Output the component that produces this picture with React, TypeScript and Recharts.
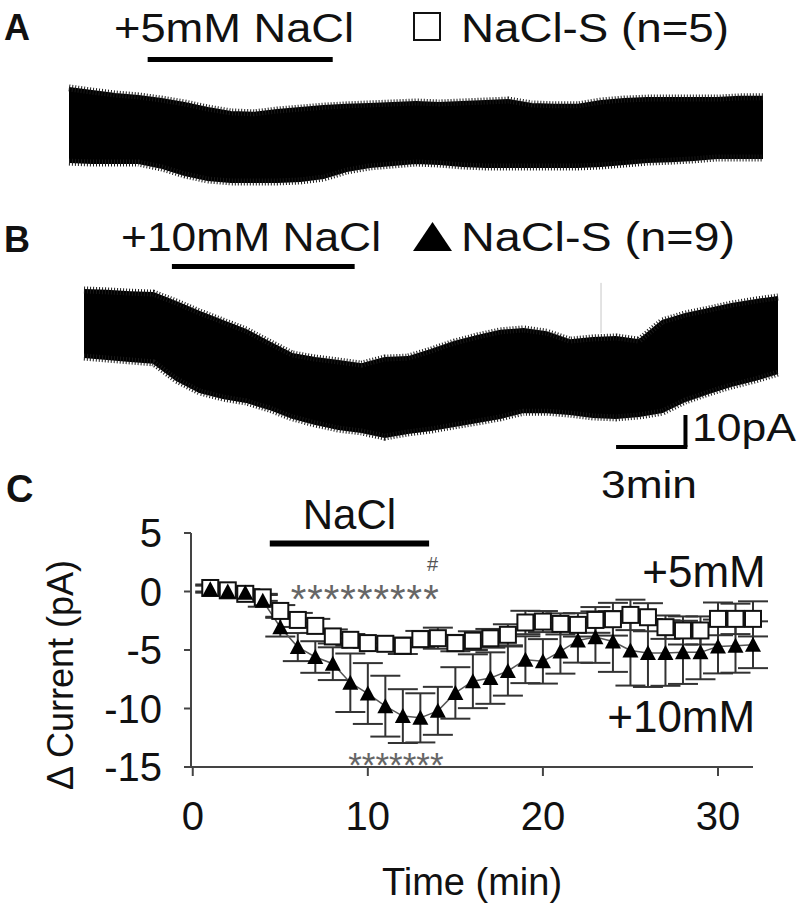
import React from "react";
import {
  ComposedChart,
  Line,
  Area,
  XAxis,
  YAxis,
  ErrorBar,
  ReferenceLine,
  ReferenceDot,
} from "recharts";

// ---- panels A / B: raw current traces, envelope (pA) sampled once a minute
const traceMinutes = [0, 1, 2, 3, 4, 5, 6, 7, 8, 9, 10, 11, 12, 13, 14, 15, 16, 17, 18, 19, 20, 21, 22, 23, 24, 25, 26, 27, 28, 29, 30];
const traceATop = [11.6, 10.6, 9.7, 9.1, 8.1, 6.9, 5.3, 4.1, 3.8, 4.7, 5.3, 5.9, 6.3, 6.6, 6.9, 7.2, 6.9, 7.2, 7.5, 7.8, 6.6, 6.3, 6.3, 7.5, 8.1, 8.4, 8.4, 8.4, 8.4, 8.8, 8.8];
const traceABottom = [-11.6, -11.9, -11.9, -11.9, -13.4, -15.6, -17.2, -17.8, -17.8, -17.8, -17.5, -16.6, -14.4, -13.1, -12.5, -11.9, -12.2, -12.8, -13.1, -13.1, -13.1, -13.1, -13.1, -12.8, -12.2, -11.6, -11.3, -10.9, -10.3, -10.3, -10.3];
const traceBTop = [10.5, 10.2, 9.8, 9.5, 6.7, 3.6, 0.8, -2.0, -5.8, -9.5, -10.8, -11.7, -12.7, -10.8, -10.5, -8.3, -5.8, -3.9, -2.3, -1.7, -2.7, -5.2, -4.5, -4.2, -5.2, 0.8, 3.0, 4.5, 6.1, 7.3, 8.3];
const traceBBottom = [-10.5, -11.1, -11.7, -12.3, -17.7, -21.4, -23.3, -24.5, -26.7, -29.5, -31.4, -33.0, -33.9, -35.5, -34.2, -33.3, -32.0, -30.8, -29.5, -27.7, -27.7, -28.3, -29.2, -29.5, -28.9, -27.7, -24.2, -21.7, -19.5, -17.7, -15.5];

// application windows (min) and scale bar
const applyA = [3.4, 11.4];
const applyB = [3.8, 11.7];
const scaleBar = { t0: 23, t1: 26, i0: -38.6, i1: -28.6 };

// ---- panel C: mean delta current +/- SEM
const timeMin = [1, 2, 3, 4, 5, 6, 7, 8, 9, 10, 11, 12, 13, 14, 15, 16, 17, 18, 19, 20, 21, 22, 23, 24, 25, 26, 27, 28, 29, 30, 31, 32];
const mean5 = [0.3, 0.1, -0.2, -0.5, -1.66, -2.43, -2.94, -3.84, -4.13, -4.41, -4.47, -4.64, -4.07, -3.99, -4.41, -4.2, -4.0, -3.7, -2.65, -2.57, -2.77, -2.85, -2.43, -2.37, -2.0, -2.2, -3.05, -3.33, -3.33, -2.34, -2.34, -2.34];
const sem5 = [0.3, 0.3, 0.3, 0.3, 0.5, 0.6, 0.6, 0.6, 0.5, 0.4, 0.4, 0.7, 0.7, 0.9, 0.7, 0.8, 0.8, 0.9, 1.0, 0.9, 0.9, 1.0, 1.1, 1.4, 1.3, 1.2, 1.0, 1.2, 1.2, 1.4, 1.3, 1.5];
const mean10 = [0.2, 0.0, -0.1, -0.8, -3.05, -4.75, -5.6, -6.17, -7.8, -8.72, -9.8, -10.65, -10.8, -10.2, -8.67, -7.67, -7.4, -6.8, -5.83, -5.97, -5.12, -4.18, -3.9, -4.27, -5.04, -5.26, -5.26, -5.2, -5.2, -4.7, -4.64, -4.55];
const sem10 = [0.3, 0.3, 0.3, 0.5, 0.8, 1.2, 1.35, 1.4, 2.5, 2.6, 2.6, 2.3, 2.1, 2.05, 2.2, 2.3, 2.2, 2.1, 2.0, 1.9, 1.9, 1.9, 2.2, 2.6, 3.0, 2.9, 2.8, 2.7, 2.3, 2.3, 2.3, 2.0];
const xTicks = [0, 10, 20, 30];
const yTicks = [5, 0, -5, -10, -15];
const naclWindow = [4.4, 13.5];

const FONT = "'Liberation Sans', Arial, sans-serif";
const INK = "#111";

const traceA = traceMinutes.map((t, i) => ({ t, band: [traceABottom[i], traceATop[i]] }));
const traceB = traceMinutes.map((t, i) => ({ t, band: [traceBBottom[i], traceBTop[i]] }));
const summary = timeMin.map((t, i) => ({ t, m5: mean5[i], e5: sem5[i], m10: mean10[i], e10: sem10[i] }));

const SquareDot = (p: any) => {
  if (p.cx == null || p.cy == null) return null;
  return (
    <rect key={`sq-${p.index}`} x={p.cx - 8} y={p.cy - 8} width={16} height={16}
      fill="#fff" stroke={INK} strokeWidth={2} />
  );
};

const TriangleDot = (p: any) => {
  if (p.cx == null || p.cy == null) return null;
  const { cx, cy } = p;
  return (
    <polygon key={`tr-${p.index}`} points={`${cx - 8},${cy + 7} ${cx + 8},${cy + 7} ${cx},${cy - 8}`} fill="#000" />
  );
};

function Trace({ data, domain, margin, height, bar, barLevel, children }: any) {
  return (
    <ComposedChart width={800} height={height} data={data} margin={margin}>
      <XAxis dataKey="t" type="number" domain={[0, 30]} hide />
      <YAxis type="number" domain={domain} hide />
      <Area dataKey="band" type="linear" fill="#000" fillOpacity={1} stroke="#000" strokeWidth={2} isAnimationActive={false} />
      {/* ragged noise fringe along the envelope */}
      <Area dataKey="band" type="linear" fill="none" stroke="#1a1a1a" strokeWidth={7}
        strokeDasharray="1 2" isAnimationActive={false} />
      <ReferenceLine
        segment={[{ x: bar[0], y: barLevel }, { x: bar[1], y: barLevel }]}
        stroke="#000" strokeWidth={5} ifOverflow="visible"
      />
      {children}
    </ComposedChart>
  );
}

export default function App() {
  return (
    <div style={{ position: "absolute", left: 0, top: 0, width: 800, height: 912, background: "#fff", fontFamily: FONT }}>
      <div style={{ position: "absolute", left: 0, top: 0 }}>
        <Trace data={traceA} domain={[-20, 14]} height={200}
          margin={{ top: 80.2, right: 37, bottom: 11, left: 69 }} bar={applyA} barLevel={20.5} />
      </div>

      <div style={{ position: "absolute", left: 0, top: 200 }}>
        <Trace data={traceB} domain={[-40, 24]} height={300}
          margin={{ top: 46.7, right: 22, bottom: 48.5, left: 84 }} bar={applyB} barLevel={17.8}>
          <ReferenceLine segment={[{ x: 22.35, y: 12.7 }, { x: 22.35, y: -3 }]} stroke="#c8c8c8" strokeWidth={1} />
          <ReferenceLine segment={[{ x: scaleBar.t1, y: scaleBar.i0 }, { x: scaleBar.t1, y: scaleBar.i1 }]} stroke="#000" strokeWidth={4} />
          <ReferenceLine segment={[{ x: scaleBar.t0, y: scaleBar.i0 }, { x: scaleBar.t1 + 0.08, y: scaleBar.i0 }]} stroke="#000" strokeWidth={4} />
        </Trace>
      </div>

      <div style={{ position: "absolute", left: 0, top: 450 }}>
        <ComposedChart width={800} height={462} data={summary} margin={{ top: 83, right: 47, bottom: 10, left: 71 }}>
          <XAxis dataKey="t" type="number" domain={[-0.1, 32]} ticks={xTicks} height={135}
            tick={{ fontSize: 40, fill: INK, fontFamily: FONT }} tickSize={9} tickMargin={26}
            axisLine={{ stroke: "#444", strokeWidth: 2 }} tickLine={{ stroke: "#444", strokeWidth: 2 }}
            label={{ value: "Time (min)", position: "insideBottom", offset: 7, fontSize: 38, fill: INK, fontFamily: FONT }} />
          <YAxis type="number" domain={[-15, 5]} ticks={yTicks} width={120} interval={0}
            tick={{ fontSize: 40, fill: INK, fontFamily: FONT }} tickSize={7} tickMargin={22}
            axisLine={{ stroke: "#444", strokeWidth: 2 }} tickLine={{ stroke: "#444", strokeWidth: 2 }} />
          <ReferenceLine
            segment={[{ x: naclWindow[0], y: 4.1 }, { x: naclWindow[1], y: 4.1 }]}
            stroke="#000" strokeWidth={6}
            label={{ value: "NaCl", position: "top", offset: 15, fontSize: 42, fill: INK, fontFamily: FONT }}
          />
          <Line dataKey="m5" type="linear" stroke="#555" strokeWidth={1.5} dot={SquareDot} isAnimationActive={false}>
            <ErrorBar dataKey="e5" width={15} stroke="#333" strokeWidth={2} direction="y" />
          </Line>
          <Line dataKey="m10" type="linear" stroke="#555" strokeWidth={1.5} dot={TriangleDot} isAnimationActive={false}>
            <ErrorBar dataKey="e10" width={15} stroke="#333" strokeWidth={2} direction="y" />
          </Line>
          <ReferenceDot x={9.85} y={-0.64} r={0} fill="none" stroke="none"
            label={{ value: "*********", position: "center", fontSize: 40, fill: "#666", fontFamily: FONT, letterSpacing: 1 }} />
          <ReferenceDot x={11.6} y={-14.8} r={0} fill="none" stroke="none"
            label={{ value: "*******", position: "center", fontSize: 35, fill: "#666", fontFamily: FONT }} />
          <ReferenceDot x={13.7} y={2.35} r={0} fill="none" stroke="none"
            label={{ value: "#", position: "center", fontSize: 20, fill: "#555", fontFamily: FONT }} />
          <ReferenceDot x={29.2} y={1.72} r={0} fill="none" stroke="none"
            label={{ value: "+5mM", position: "center", fontSize: 44, fill: INK, fontFamily: FONT }} />
          <ReferenceDot x={27.9} y={-10.68} r={0} fill="none" stroke="none"
            label={{ value: "+10mM", position: "center", fontSize: 44, fill: INK, fontFamily: FONT }} />
        </ComposedChart>
      </div>

      {/* panel letters, legends and scale-bar captions */}
      <svg width={800} height={912} style={{ position: "absolute", left: 0, top: 0, pointerEvents: "none" }}
        fontFamily={FONT} fill={INK}>
        <text x={4} y={40} fontSize={36} fontWeight="bold">A</text>
        <text x={114} y={42} fontSize={40} textLength={240} lengthAdjust="spacingAndGlyphs">+5mM NaCl</text>
        <rect x={414} y={13} width={26} height={27} fill="#fff" stroke={INK} strokeWidth={2} />
        <text x={461} y={42} fontSize={40} textLength={268} lengthAdjust="spacingAndGlyphs">NaCl-S (n=5)</text>

        <text x={4} y={252} fontSize={36} fontWeight="bold">B</text>
        <text x={121} y={251} fontSize={40} textLength={260} lengthAdjust="spacingAndGlyphs">+10mM NaCl</text>
        <polygon points="413,251 452,251 432.5,222" fill="#000" />
        <text x={461} y={251} fontSize={40} textLength={274} lengthAdjust="spacingAndGlyphs">NaCl-S (n=9)</text>

        <text x={692} y={441} fontSize={38} textLength={104} lengthAdjust="spacingAndGlyphs">10pA</text>
        <text x={601} y={498} fontSize={38} textLength={96} lengthAdjust="spacingAndGlyphs">3min</text>

        <text x={6} y={502} fontSize={38} fontWeight="bold">C</text>
        <text transform="translate(60,675) rotate(-90)" textAnchor="middle" dominantBaseline="central" fontSize={36}>
          Δ Current (pA)
        </text>
      </svg>
    </div>
  );
}
